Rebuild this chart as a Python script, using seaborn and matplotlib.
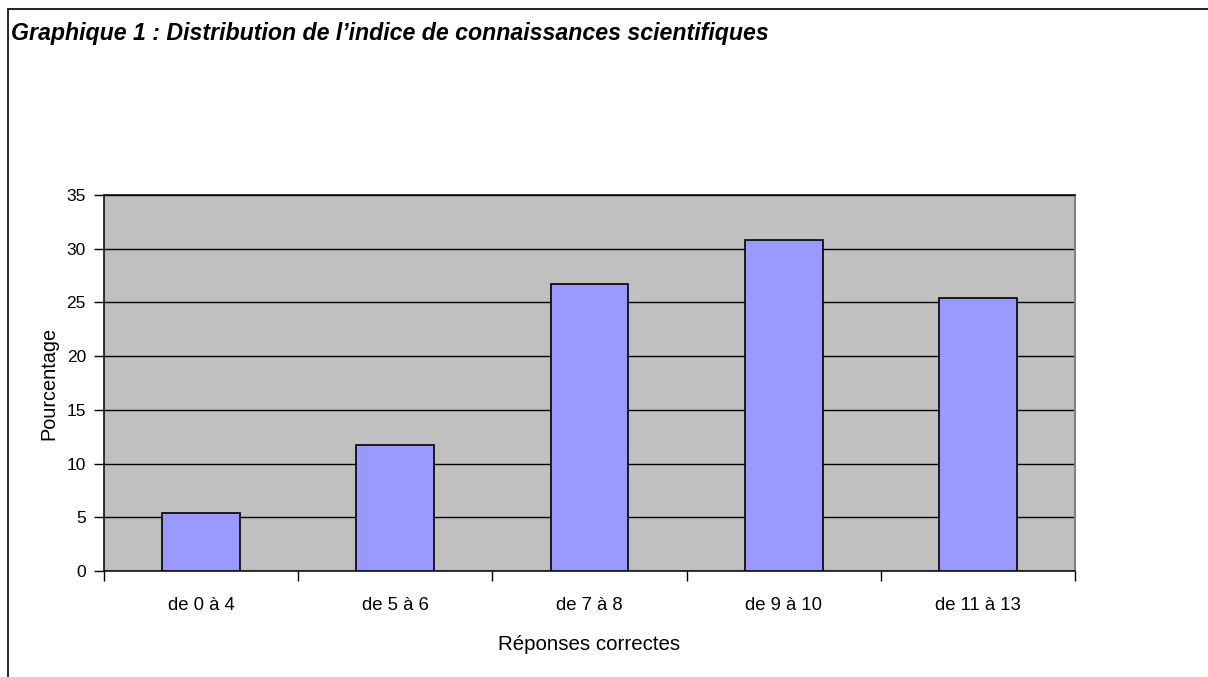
import matplotlib
matplotlib.use("Agg")
import matplotlib.pyplot as plt
from matplotlib.patches import Rectangle
import seaborn as sns
import pandas as pd

categories = ["de 0 à 4", "de 5 à 6", "de 7 à 8", "de 9 à 10", "de 11 à 13"]
percentages = [5.4, 11.7, 26.7, 30.8, 25.4]
y_ticks = [0, 5, 10, 15, 20, 25, 30, 35]

df = pd.DataFrame({"cat": categories, "pct": percentages})

sns.set_style("white")
plt.rcParams["font.family"] = ["Liberation Sans", "DejaVu Sans"]
plt.rcParams["text.color"] = "black"
plt.rcParams["axes.labelcolor"] = "black"
plt.rcParams["xtick.color"] = "black"
plt.rcParams["ytick.color"] = "black"

fig = plt.figure(figsize=(12.08, 6.77), dpi=100)
ax = fig.add_axes([0.0861, 0.1566, 0.8038, 0.5554])

sns.barplot(data=df, x="cat", y="pct", color="#9999FF", saturation=1,
            edgecolor="black", linewidth=1.2, width=0.4, ax=ax, zorder=3)

ax.set_facecolor("#C0C0C0")
ax.set_ylim(0, 35)
ax.set_xlim(-0.5, 4.5)
ax.set_yticks(y_ticks)
ax.yaxis.grid(True, color="black", linewidth=1.0, zorder=1)
ax.set_axisbelow(True)

# excel style: tick marks between categories, labels centred
ax.set_xticks([i - 0.5 for i in range(len(categories) + 1)], minor=True)
ax.tick_params(axis="x", which="minor", bottom=True, length=7, width=1,
               color="black", direction="out")
ax.tick_params(axis="x", which="major", bottom=True, length=0, pad=19)
ax.set_xticklabels(categories, fontsize=13.3)
ax.tick_params(axis="y", left=True, length=7, width=1, color="black",
               direction="out", labelsize=12.5, pad=6)

for s in ["left", "bottom", "top"]:
    ax.spines[s].set_color("black")
    ax.spines[s].set_linewidth(1.1)
ax.spines["right"].set_color("#808080")
ax.spines["right"].set_linewidth(1.5)

ax.set_xlabel("Réponses correctes", fontsize=14.8, labelpad=15)
ax.set_ylabel("Pourcentage", fontsize=14.3, labelpad=6)

fig.text(0.009, 0.951, "Graphique 1 : Distribution de l’indice de connaissances scientifiques",
         fontsize=16.7, fontweight="bold", fontstyle="italic", va="center")

fig.patches.append(Rectangle((0.0066, -0.1), 1.2, 1.087, transform=fig.transFigure,
                             fill=False, edgecolor="black", linewidth=1.2))

fig.savefig("out.png", dpi=100)
